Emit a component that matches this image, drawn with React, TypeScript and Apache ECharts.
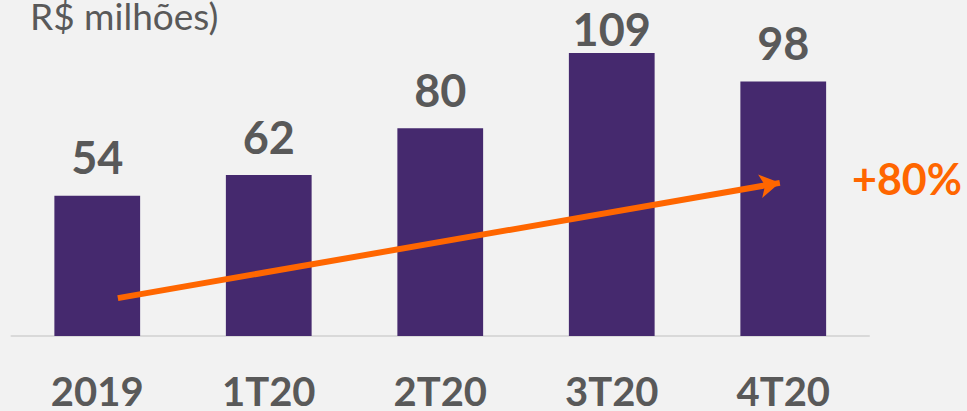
import React, { useEffect, useRef } from "react";
import * as echarts from "echarts";

const categories = ["2019", "1T20", "2T20", "3T20", "4T20"];
const values = [54, 62, 80, 109, 98];
const trendStart = [0.12, 14.6];
const trendEnd = [3.98, 59];
const unitLabel = "R$ milhões)";
const growthLabel = "+80%";

export default function App() {
  const ref = useRef<HTMLDivElement>(null);
  useEffect(() => {
    if (!ref.current) return;
    const chart = echarts.init(ref.current, null, { renderer: "svg" });
    const maxVal = Math.max(...values);
    chart.setOption({
      animation: false,
      backgroundColor: "#f2f2f2",
      textStyle: { fontFamily: "Lato" },
      grid: { left: 11.5, right: 98, top: 24.5, bottom: 75 },
      graphic: [
        {
          type: "text",
          left: 30,
          top: -3,
          style: {
            text: unitLabel,
            fontFamily: "Lato",
            fontSize: 37,
            lineHeight: 30,
            fontWeight: "normal",
            fill: "#595959",
          },
        },
        {
          type: "text",
          right: 5,
          top: 157,
          style: { text: growthLabel, fontFamily: "Lato", fontSize: 43, fontWeight: "bold", fill: "#ff6600" },
        },
      ],
      xAxis: [
        {
          type: "category",
          data: categories,
          axisTick: { show: false },
          axisLine: { lineStyle: { color: "#d9d9d9", width: 2 } },
          axisLabel: {
            color: "#595959",
            fontSize: 40,
            lineHeight: 30,
            fontWeight: "bold",
            fontFamily: "Lato",
            margin: 40,
          },
        },
        { type: "value", min: -0.5, max: 4.5, show: false },
      ],
      yAxis: { type: "value", min: 0, max: 120, show: false, splitLine: { show: false } },
      series: [
        {
          type: "bar",
          data: values.map((v) => ({ value: v, label: { distance: v === maxVal ? 2 : 16 } })),
          barWidth: "50%",
          itemStyle: { color: "#45296e" },
          label: {
            show: true,
            position: "top",
            distance: 16,
            color: "#595959",
            fontSize: 45,
            fontWeight: "bold",
            fontFamily: "Lato",
          },
        },
        {
          type: "scatter",
          xAxisIndex: 1,
          symbolSize: 0,
          data: [trendStart, trendEnd],
          silent: true,
          markLine: {
            silent: true,
            symbol: ["none", "arrow"],
            symbolSize: [18, 20],
            label: { show: false },
            lineStyle: { color: "#ff6600", width: 6, type: "solid" },
            data: [[{ coord: trendStart }, { coord: trendEnd }]],
          },
        },
      ],
    });
    return () => chart.dispose();
  }, []);
  return <div ref={ref} style={{ width: 967, height: 411, position: "absolute", left: 0, top: 0 }} />;
}
